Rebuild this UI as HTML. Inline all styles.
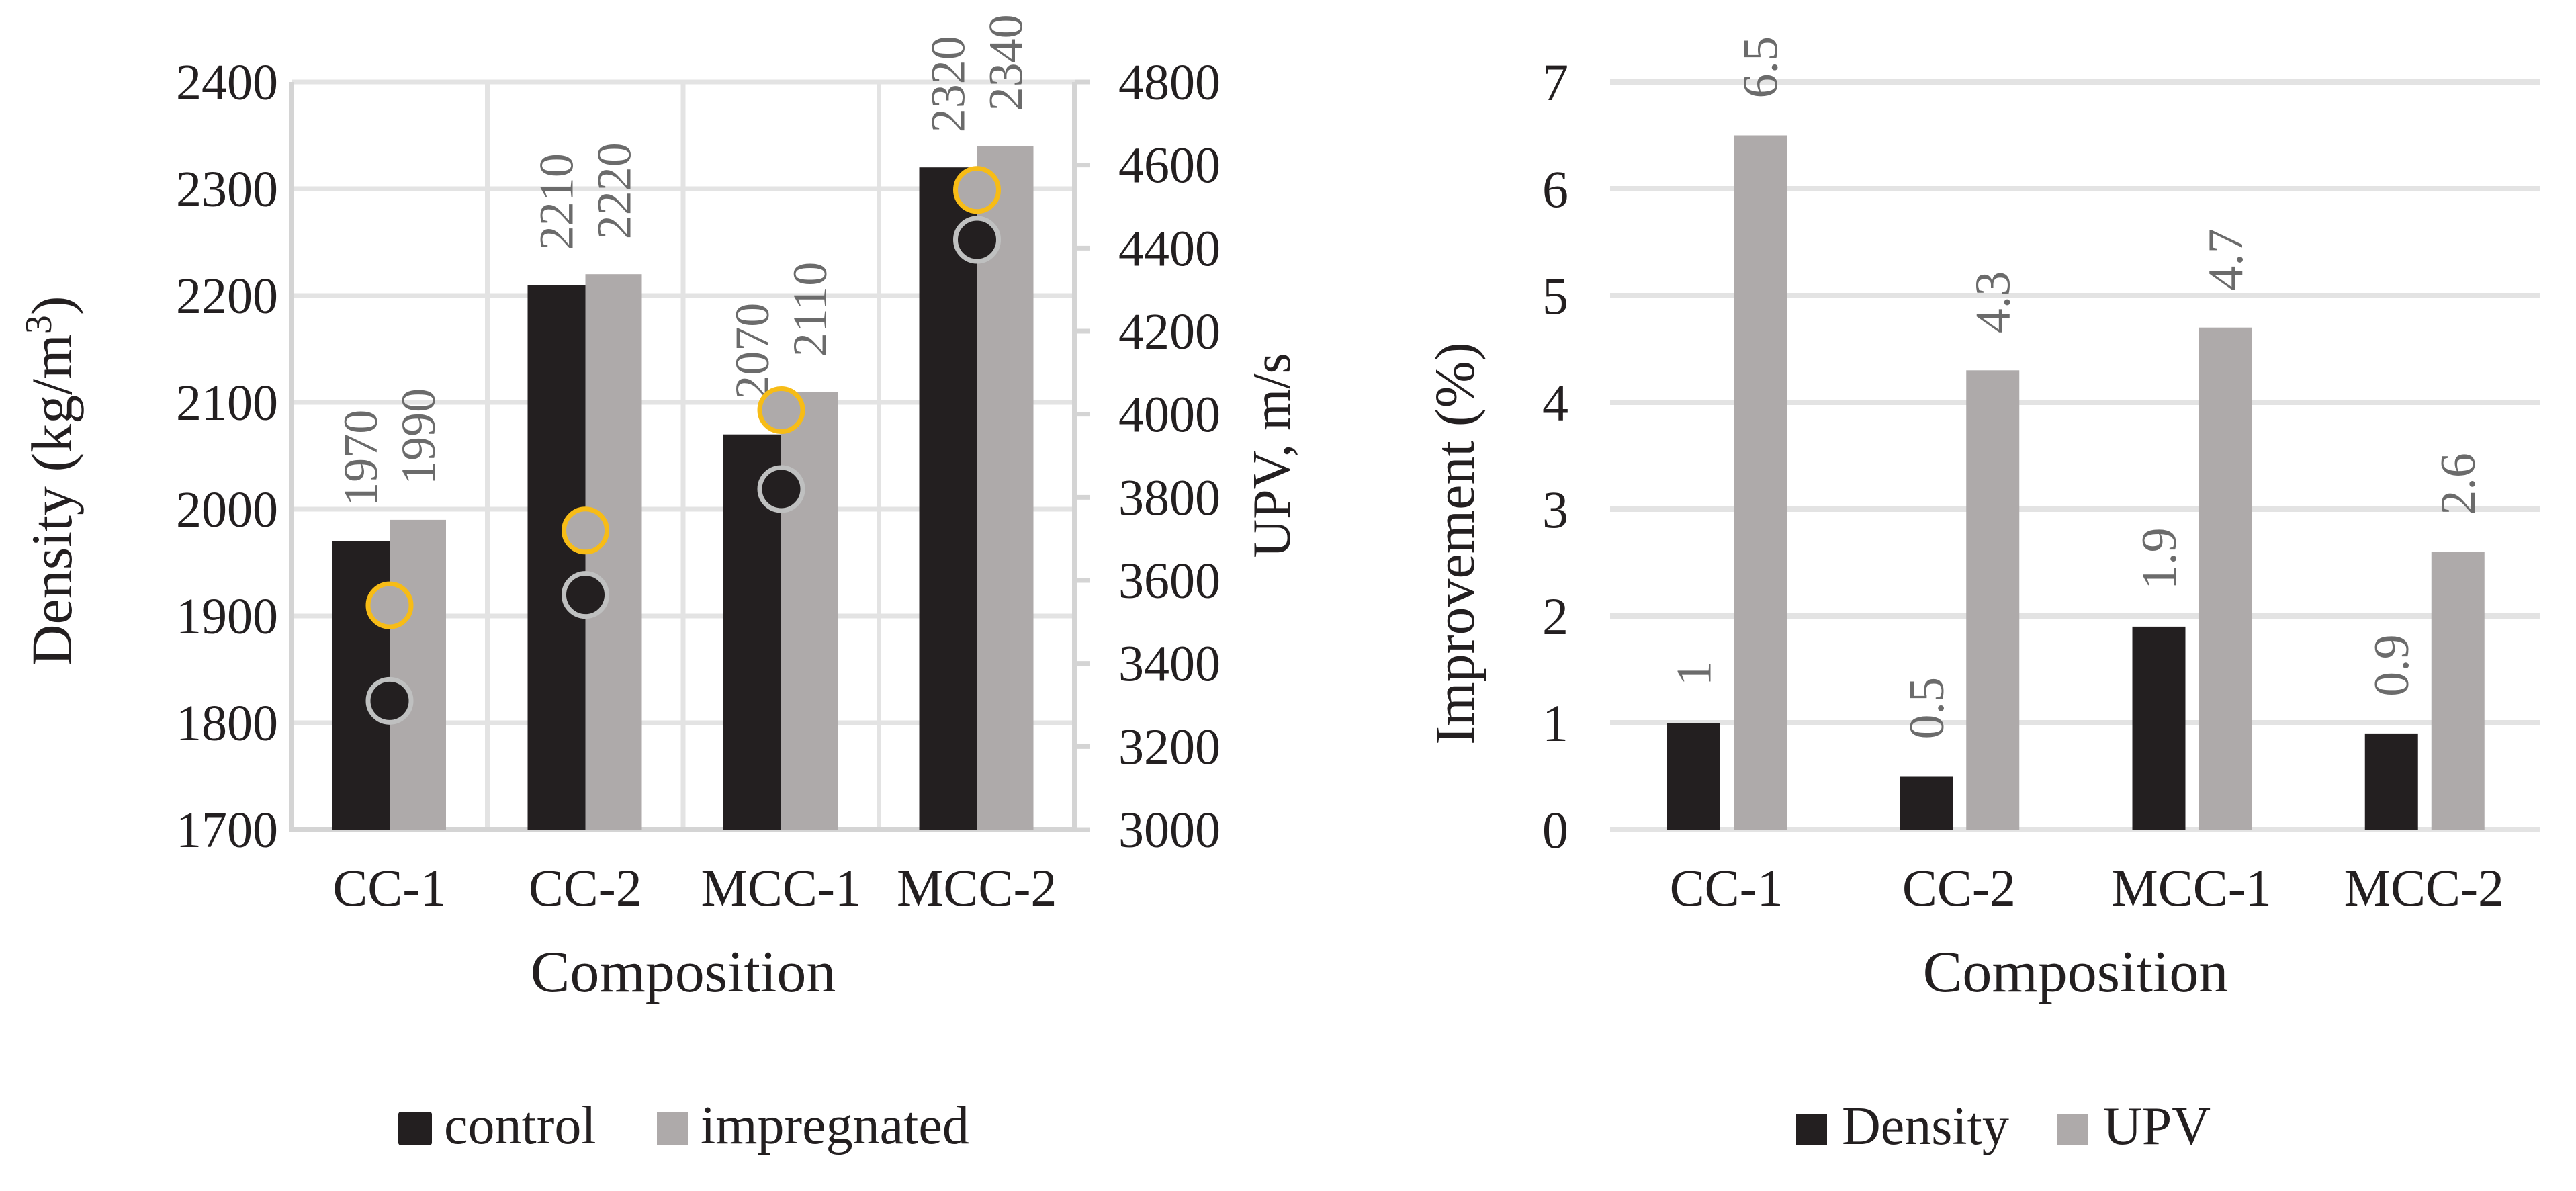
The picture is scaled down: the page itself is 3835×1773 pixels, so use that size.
<!DOCTYPE html>
<html><head><meta charset="utf-8">
<style>
html,body{margin:0;padding:0;background:#fff;}
svg{display:block;font-family:"Liberation Serif",serif;}
</style></head>
<body>
<svg id="chart" width="3835" height="1773" viewBox="0 0 3835 1773" xmlns="http://www.w3.org/2000/svg">
<g id="left"></g>
<g id="right"></g>
</svg>
<script>
const categories = ["CC-1","CC-2","MCC-1","MCC-2"];
const densityControl = [1970,2210,2070,2320];
const densityImpregnated = [1990,2220,2110,2340];
const upvControl = [3310,3565,3820,4420];
const upvImpregnated = [3540,3720,4010,4540];
const densityTicks = [1700,1800,1900,2000,2100,2200,2300,2400];
const upvTicks = [3000,3200,3400,3600,3800,4000,4200,4400,4600,4800];
const improveDensity = [1,0.5,1.9,0.9];
const improveUPV = [6.5,4.3,4.7,2.6];
const improveTicks = [0,1,2,3,4,5,6,7];

const NS="http://www.w3.org/2000/svg";
function mk(parent,tag,attrs,text){const e=document.createElementNS(NS,tag);for(const k in attrs)e.setAttribute(k,attrs[k]);if(text!==undefined)e.textContent=text;parent.appendChild(e);return e;}
const DARK="#231f20", GREY="#aeaaaa", GRID="#e3e3e3", AXIS="#d4d4d4", LBL="#6b6b6b";

// ---------- left chart ----------
const L=document.getElementById('left');
const lx0=434, lx1=1600, pTop=122, bot=1235;
const lcw=(lx1-lx0)/categories.length;
const yD=v=>bot-(v-1700)/(2400-1700)*(bot-pTop);
const yU=v=>bot-(v-3000)/(4800-3000)*(bot-pTop);
densityTicks.forEach(t=>{
  const g=mk(L,'line',{x1:lx0,x2:lx1,y1:yD(t),y2:yD(t),stroke:GRID,'stroke-width':7});
  
  
  const tx=mk(L,'text',{x:414,y:yD(t)+26,'text-anchor':'end','font-size':76,fill:DARK},t);
  
  
});
for(let i=1;i<categories.length;i++){
  const v=mk(L,'line',{x1:lx0+i*lcw,x2:lx0+i*lcw,y1:pTop,y2:bot,stroke:GRID,'stroke-width':7});
  
  
}
upvTicks.forEach(t=>{
  const tk=mk(L,'line',{x1:lx1,x2:lx1+22,y1:yU(t),y2:yU(t),stroke:AXIS,'stroke-width':7});
  
  
  const tx=mk(L,'text',{x:1665,y:yU(t)+26,'font-size':76,fill:DARK},t);
  
  
});
let a=mk(L,'line',{x1:lx0,x2:lx0,y1:pTop,y2:bot+4,stroke:AXIS,'stroke-width':8});

a=mk(L,'line',{x1:lx0-4,x2:lx1+4,y1:bot,y2:bot,stroke:AXIS,'stroke-width':8});

a=mk(L,'line',{x1:lx1,x2:lx1,y1:pTop,y2:bot,stroke:AXIS,'stroke-width':8});


const bw=86, boff=60;
categories.forEach((c,i)=>{
  const cx=lx0+i*lcw;
  const x1=cx+boff, x2=cx+boff+bw;
  const b1=mk(L,'rect',{x:x1,y:yD(densityControl[i]),width:bw,height:bot-yD(densityControl[i]),fill:DARK});
  
  
  const b2=mk(L,'rect',{x:x2,y:yD(densityImpregnated[i]),width:bw-2,height:bot-yD(densityImpregnated[i]),fill:GREY});
  
  
  [[x1+bw/2,densityControl[i]],[x2+bw/2,densityImpregnated[i]]].forEach(([x,v])=>{
    const y=yD(v)-52;
    const t=mk(L,'text',{x:x+24,y:y,transform:`rotate(-90 ${x+24} ${y})`,'font-size':72,fill:LBL},v);
    
    
  });
  const mid=cx+boff+bw;
  const p1=mk(L,'circle',{cx:mid,cy:yU(upvControl[i]),r:32,fill:DARK,stroke:"#bfc0c0",'stroke-width':7});
  
  
  const p2=mk(L,'circle',{cx:mid,cy:yU(upvImpregnated[i]),r:32,fill:GREY,stroke:"#f7bc16",'stroke-width':7});
  
  
  const cl=mk(L,'text',{x:cx+lcw/2,y:1348,'text-anchor':'middle','font-size':78,fill:DARK},c);
  
  
});
let t=mk(L,'text',{x:1017,y:1476,'text-anchor':'middle','font-size':88,fill:DARK},'Composition');

t=mk(L,'text',{x:106,y:716,transform:'rotate(-90 106 716)','text-anchor':'middle','font-size':86,fill:DARK});

t.innerHTML='Density (kg/m<tspan dy="-30" font-size="56">3</tspan><tspan dy="30">)</tspan>';
t=mk(L,'text',{x:1920,y:678,transform:'rotate(-90 1920 678)','text-anchor':'middle','font-size':80,fill:DARK},'UPV, m/s');

let s=mk(L,'rect',{x:593,y:1655,width:50,height:50,rx:4,fill:DARK});

t=mk(L,'text',{x:661,y:1702,'font-size':80,fill:DARK},'control');

s=mk(L,'rect',{x:978,y:1655,width:46,height:50,fill:GREY});

t=mk(L,'text',{x:1043,y:1702,'font-size':80,fill:DARK},'impregnated');


// ---------- right chart ----------
const R=document.getElementById('right');
const rx0=2397, rx1=3782;
const rcw=(rx1-rx0)/categories.length;
const yI=v=>bot-v/7*(bot-pTop);
improveTicks.forEach(v=>{
  const g=mk(R,'line',{x1:rx0,x2:rx1,y1:yI(v),y2:yI(v),stroke:GRID,'stroke-width':8});
  
  
  const tx=mk(R,'text',{x:2335,y:yI(v)+27,'text-anchor':'end','font-size':78,fill:DARK},v);
  
  
});
const rbw=79;
categories.forEach((c,i)=>{
  const cx=rx0+i*rcw;
  const x1=cx+85, x2=cx+85+rbw+20;
  const b1=mk(R,'rect',{x:x1,y:yI(improveDensity[i]),width:rbw,height:bot-yI(improveDensity[i]),fill:DARK});
  
  
  const b2=mk(R,'rect',{x:x2,y:yI(improveUPV[i]),width:rbw,height:bot-yI(improveUPV[i]),fill:GREY});
  
  
  [[x1+rbw/2,improveDensity[i]],[x2+rbw/2,improveUPV[i]]].forEach(([x,v])=>{
    const y=yI(v)-55;
    const l=mk(R,'text',{x:x+25,y:y,transform:`rotate(-90 ${x+25} ${y})`,'font-size':74,fill:LBL},v);
    
    
  });
  const cl=mk(R,'text',{x:cx+rcw/2,y:1348,'text-anchor':'middle','font-size':78,fill:DARK},c);
  
  
});
t=mk(R,'text',{x:3090,y:1476,'text-anchor':'middle','font-size':88,fill:DARK},'Composition');

t=mk(R,'text',{x:2194,y:809,transform:'rotate(-90 2194 809)','text-anchor':'middle','font-size':84,fill:DARK},'Improvement (%)');

s=mk(R,'rect',{x:2674,y:1658,width:46,height:47,fill:DARK});

t=mk(R,'text',{x:2742,y:1703,'font-size':80,fill:DARK},'Density');

s=mk(R,'rect',{x:3063,y:1658,width:46,height:47,fill:GREY});

t=mk(R,'text',{x:3131,y:1703,'font-size':80,fill:DARK},'UPV');

</script>
</body></html>
